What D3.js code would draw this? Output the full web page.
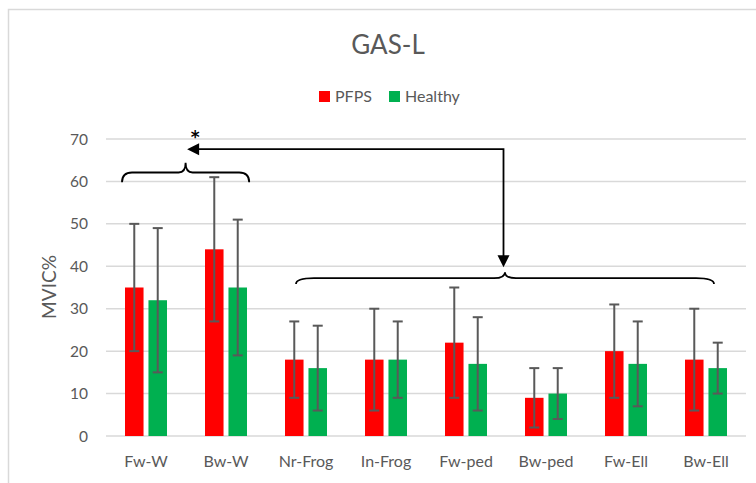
<!DOCTYPE html>
<html>
<head>
<meta charset="utf-8">
<script src="https://cdn.jsdelivr.net/npm/d3@7"></script>
<style>
  body { margin: 0; background: #fff; }
  svg { display: block; font-family: Lato, "Open Sans", sans-serif; }
</style>
</head>
<body>
<svg id="chart" width="756" height="483"></svg>
<script>
const categories = ["Fw-W", "Bw-W", "Nr-Frog", "In-Frog", "Fw-ped", "Bw-ped", "Fw-Ell", "Bw-Ell"];
const seriesNames = ["PFPS", "Healthy"];
const pfpsMean = [35, 44, 18, 18, 22, 9, 20, 18];
const pfpsSD = [15, 17, 9, 12, 13, 7, 11, 12];
const healthyMean = [32, 35, 16, 18, 17, 10, 17, 16];
const healthySD = [17, 16, 10, 9, 11, 6, 10, 6];
const yTicks = [0, 10, 20, 30, 40, 50, 60, 70];

const colors = {PFPS: "#ff0000", Healthy: "#00b050"};
const textGray = "#595959";

const svg = d3.select("#chart");

// chart frame
svg.append("rect")
  .attr("x", 8.5).attr("y", 9.5)
  .attr("width", 900).attr("height", 600)
  .attr("fill", "none")
  .attr("stroke", "#d9d9d9")
  .attr("stroke-width", 1.5);

const x = d3.scaleBand(categories, [106, 746]);
const xs = d3.scaleBand(seriesNames, [0, x.bandwidth()]).paddingInner(0.21).paddingOuter(0.81);
const y = d3.scaleLinear([0, 70], [436, 139]);

// gridlines
svg.append("g")
  .selectAll("line")
  .data(yTicks)
  .join("line")
  .attr("x1", 106).attr("x2", 746)
  .attr("y1", d => y(d)).attr("y2", d => y(d))
  .attr("stroke", "#d9d9d9")
  .attr("stroke-width", 1.5);

// y tick labels
svg.append("g")
  .selectAll("text")
  .data(yTicks)
  .join("text")
  .attr("x", 88)
  .attr("y", d => y(d))
  .attr("dy", "0.36em")
  .attr("text-anchor", "end")
  .attr("font-size", 15.5)
  .attr("fill", textGray)
  .text(d => d);

// x labels
svg.append("g")
  .selectAll("text")
  .data(categories)
  .join("text")
  .attr("x", d => x(d) + x.bandwidth() / 2)
  .attr("y", 467)
  .attr("text-anchor", "middle")
  .attr("font-size", 16)
  .attr("fill", textGray)
  .text(d => d);

// y axis title
svg.append("text")
  .attr("transform", "translate(56,287) rotate(-90)")
  .attr("text-anchor", "middle")
  .attr("font-size", 19)
  .attr("fill", textGray)
  .text("MVIC%");

// title
svg.append("text")
  .attr("x", 388).attr("y", 54)
  .attr("text-anchor", "middle")
  .attr("font-size", 26)
  .attr("fill", textGray)
  .text("GAS-L");

// legend
const legendItems = [{name: "PFPS", x: 319}, {name: "Healthy", x: 389}];
const lg = svg.append("g").selectAll("g").data(legendItems).join("g");
lg.append("rect")
  .attr("x", d => d.x).attr("y", 91)
  .attr("width", 11).attr("height", 11)
  .attr("fill", d => colors[d.name]);
lg.append("text")
  .attr("x", d => d.x + 16).attr("y", 102)
  .attr("font-size", 16)
  .attr("fill", textGray)
  .text(d => d.name);

// bars
const rows = categories.map((c, i) => ({
  cat: c,
  vals: [
    {s: "PFPS", m: pfpsMean[i], sd: pfpsSD[i]},
    {s: "Healthy", m: healthyMean[i], sd: healthySD[i]}
  ]
}));

const groups = svg.append("g")
  .selectAll("g")
  .data(rows)
  .join("g")
  .attr("transform", d => `translate(${x(d.cat)},0)`);

groups.selectAll("rect")
  .data(d => d.vals)
  .join("rect")
  .attr("x", d => xs(d.s))
  .attr("y", d => y(d.m))
  .attr("width", xs.bandwidth())
  .attr("height", d => y(0) - y(d.m))
  .attr("fill", d => colors[d.s]);

// error bars
const eb = groups.selectAll("g.err")
  .data(d => d.vals)
  .join("g")
  .attr("class", "err")
  .attr("stroke", textGray)
  .attr("stroke-width", 2);
const cx = d => xs(d.s) + xs.bandwidth() / 2;
eb.append("line")
  .attr("x1", cx).attr("x2", cx)
  .attr("y1", d => y(d.m - d.sd)).attr("y2", d => y(d.m + d.sd));
eb.append("line")
  .attr("x1", d => cx(d) - 5).attr("x2", d => cx(d) + 5)
  .attr("y1", d => y(d.m + d.sd)).attr("y2", d => y(d.m + d.sd));
eb.append("line")
  .attr("x1", d => cx(d) - 5).attr("x2", d => cx(d) + 5)
  .attr("y1", d => y(d.m - d.sd)).attr("y2", d => y(d.m - d.sd));

// braces (significance annotation)
function brace(x1, x2, yEnd, yTip, rEnd, rTip) {
  const xm = (x1 + x2) / 2;
  const yMid = (yEnd + yTip) / 2;
  return `M${x1},${yEnd} Q${x1},${yMid} ${x1 + rEnd},${yMid}` +
    ` L${xm - rTip},${yMid} Q${xm},${yMid} ${xm},${yTip}` +
    ` Q${xm},${yMid} ${xm + rTip},${yMid}` +
    ` L${x2 - rEnd},${yMid} Q${x2},${yMid} ${x2},${yEnd}`;
}
const bx = (cat, f) => x(cat) + f * x.bandwidth();

const leftBrace = {x1: bx("Fw-W", 0.2), x2: bx("Bw-W", 0.79), yEnd: y(59.8), yTip: y(64.4)};
const rightBrace = {x1: bx("Nr-Frog", 0.375), x2: bx("Bw-Ell", 0.6), yEnd: y(35.8), yTip: y(38.6)};

svg.append("path")
  .attr("d", brace(leftBrace.x1, leftBrace.x2, leftBrace.yEnd, leftBrace.yTip, 10, 7))
  .attr("fill", "none").attr("stroke", "#000").attr("stroke-width", 1.8);
svg.append("path")
  .attr("d", brace(rightBrace.x1, rightBrace.x2, rightBrace.yEnd, rightBrace.yTip, 18, 11))
  .attr("fill", "none").attr("stroke", "#000").attr("stroke-width", 1.8);

// connecting arrow
const lTipX = (leftBrace.x1 + leftBrace.x2) / 2 + 1.5;
const rTipX = (rightBrace.x1 + rightBrace.x2) / 2 - 1.5;
const arrowY = y(67.6);
const downTipY = y(39.8);
svg.append("path")
  .attr("d", `M${lTipX + 11},${arrowY} L${rTipX},${arrowY} L${rTipX},${downTipY - 11}`)
  .attr("fill", "none").attr("stroke", "#000").attr("stroke-width", 1.8);
svg.append("path")
  .attr("d", `M${lTipX},${arrowY} L${lTipX + 12},${arrowY - 6} L${lTipX + 12},${arrowY + 6} Z`)
  .attr("fill", "#000");
svg.append("path")
  .attr("d", `M${rTipX},${downTipY} L${rTipX - 6},${downTipY - 12} L${rTipX + 6},${downTipY - 12} Z`)
  .attr("fill", "#000");

svg.append("text")
  .attr("x", lTipX + 8).attr("y", y(64.4) - 20)
  .attr("text-anchor", "middle")
  .attr("font-family", "DejaVu Sans, sans-serif")
  .attr("font-size", 17)
  .attr("font-weight", "bold")
  .attr("fill", "#000")
  .text("*");
</script>
</body>
</html>
